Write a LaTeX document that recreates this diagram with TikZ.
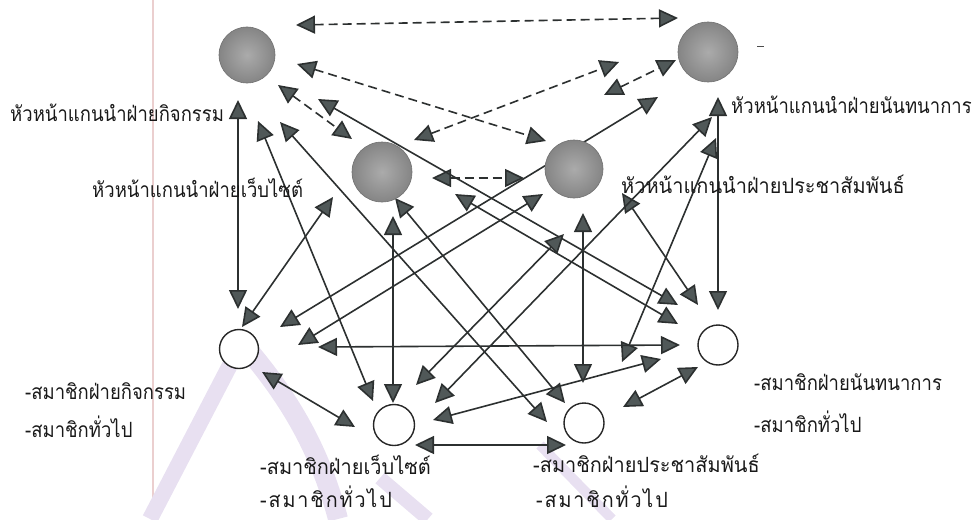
\documentclass[tikz,border=0pt]{standalone}
\usepackage{fontspec}
\newfontfamily\thai[Script=Thai,FakeStretch=0.88]{Loma}
\newfontfamily\thaiw[Script=Thai,FakeStretch=0.95]{Loma}
\newfontfamily\thaisp[Script=Thai,FakeStretch=0.94,LetterSpace=9]{Loma}
\usetikzlibrary{arrows.meta,backgrounds}
\definecolor{lineC}{HTML}{2C3030}
\definecolor{tipC}{HTML}{505858}
\definecolor{headIn}{HTML}{ABABAB}
\definecolor{headOut}{HTML}{858585}
\definecolor{wmC}{HTML}{E8E0F1}
\definecolor{pinkC}{HTML}{EBCFCF}
\begin{document}
\begin{tikzpicture}[x=1pt,y=-1pt,
  head/.style={circle, inner sep=0pt, minimum size=#1, draw=headOut!85!black, line width=0.6pt, inner color=headIn, outer color=headOut},
  member/.style={circle, inner sep=0pt, minimum size=#1, draw=black!85, line width=1.4pt, fill=white},
  lbl/.style={inner sep=0pt, anchor=base west, font=\thai\fontsize{21}{24}\selectfont, text=black!90},
  lblw/.style={lbl, font=\thaiw\fontsize{21}{24}\selectfont},
  lblsp/.style={lbl, font=\thaisp\fontsize{21}{24}\selectfont},
  conn/.style={draw=lineC, line width=1.6pt, arrows={Triangle[length=19pt,width=18pt,fill=tipC]-Triangle[length=19pt,width=18pt,fill=tipC]}},
  dconn/.style={conn, dash pattern=on 9pt off 5pt}
]
\useasboundingbox (0,0) rectangle (976,519);

% ---- nodes ----
\node[head=56pt] (A) at (247,55) {};
\node[head=60pt] (B) at (708,52) {};
\node[head=60pt] (C) at (382,172) {};
\node[head=58pt] (D) at (574,169) {};
\node[member=39pt] (a) at (239,349) {};
\node[member=40pt] (b) at (718,345) {};
\node[member=41pt] (c) at (394,425) {};
\node[member=40pt] (d) at (584,423) {};

% ---- labels ----
\node[lbl] (lA) at (10,121) {หัวหน้าแกนนำฝ่ายกิจกรรม};
\node[lbl] (lB) at (731,113) {หัวหน้าแกนนำฝ่ายนันทนาการ};
\node[lbl] (lC) at (92,197) {หัวหน้าแกนนำฝ่ายเว็บไซต์};
\node[lblw] (lD) at (621,193) {หัวหน้าแกนนำฝ่ายประชาสัมพันธ์};
\node[lbl] (la1) at (25,399) {-สมาชิกฝ่ายกิจกรรม};
\node[lbl] (la2) at (25,437) {-สมาชิกทั่วไป};
\node[lbl] (lb1) at (754,390) {-สมาชิกฝ่ายนันทนาการ};
\node[lbl] (lb2) at (754,432) {-สมาชิกทั่วไป};
\node[lblw] (lc1) at (260,474) {-สมาชิกฝ่ายเว็บไซต์};
\node[lblsp] (lc2) at (260,507) {-สมาชิกทั่วไป};
\node[lblw] (ld1) at (533,472) {-สมาชิกฝ่ายประชาสัมพันธ์};
\node[lblsp] (ld2) at (536,507) {-สมาชิกทั่วไป};

% ---- arrow end points ----
% dashed (heads)
\coordinate (dAB1) at (296,25);  \coordinate (dAB2) at (678,18);
\coordinate (dAC1) at (278,85);  \coordinate (dAC2) at (352,139);
\coordinate (dAD1) at (297,64);  \coordinate (dAD2) at (546,141);
\coordinate (dCB1) at (414,140); \coordinate (dCB2) at (619,62);
\coordinate (dDB1) at (604,95);  \coordinate (dDB2) at (676,60);
\coordinate (dCD1) at (432,178); \coordinate (dCD2) at (524,178);
% solid
\coordinate (Aa1) at (238,100); \coordinate (Aa2) at (238,309);
\coordinate (Ac1) at (258,121); \coordinate (Ac2) at (373,401);
\coordinate (Ad1) at (280,122); \coordinate (Ad2) at (547,422);
\coordinate (Ab1) at (318,99);  \coordinate (Ab2) at (678,305);
\coordinate (Ca1) at (333,197); \coordinate (Ca2) at (242,327);
\coordinate (Cc1) at (393,216); \coordinate (Cc2) at (393,403);
\coordinate (Cd1) at (395,198); \coordinate (Cd2) at (565,403);
\coordinate (Cb1) at (455,194); \coordinate (Cb2) at (678,324);
\coordinate (Da1) at (543,194); \coordinate (Da2) at (298,345);
\coordinate (Dc1) at (564,234); \coordinate (Dc2) at (416,385);
\coordinate (Dd1) at (583,213); \coordinate (Dd2) at (583,383);
\coordinate (Db1) at (622,193); \coordinate (Db2) at (698,305);
\coordinate (Ba1) at (658,97);  \coordinate (Ba2) at (280,327);
\coordinate (Bb1) at (718,97);  \coordinate (Bb2) at (718,310);
\coordinate (Bc1) at (712,117); \coordinate (Bc2) at (435,403);
\coordinate (Bd1) at (716,138); \coordinate (Bd2) at (622,362);
\coordinate (ab1) at (318,347); \coordinate (ab2) at (680,345);
\coordinate (ac1) at (262,372); \coordinate (ac2) at (355,427);
\coordinate (cd1) at (415,445); \coordinate (cd2) at (566,445);
\coordinate (cb1) at (433,420); \coordinate (cb2) at (661,359);
\coordinate (db1) at (623,407); \coordinate (db2) at (698,367);
\coordinate (dash1) at (757,47); \coordinate (dash2) at (764,47);

\begin{scope}[on background layer]
  % scan artefacts: watermark and margin line
  \draw[pinkC, line width=1.2pt] (153,0) -- (153,519);
  \draw[wmC, line width=16pt, line cap=butt] (243,340) -- (150,519);
  \draw[wmC, line width=20pt, line cap=butt] (250,352) .. controls (290,400) and (320,450) .. (338,519);
  \draw[wmC, line width=14pt, line cap=butt] (380,478) -- (428,519);
  \draw[wmC, line width=10pt, line cap=butt] (540,445) -- (612,519);
  % dashed connectors between heads
  \draw[dconn] (dAB1) -- (dAB2);
  \draw[dconn] (dAC1) -- (dAC2);
  \draw[dconn] (dAD1) -- (dAD2);
  \draw[dconn] (dCB1) -- (dCB2);
  \draw[dconn] (dDB1) -- (dDB2);
  \draw[dconn] (dCD1) -- (dCD2);
  % solid connectors
  \draw[conn] (Aa1) -- (Aa2);
  \draw[conn] (Ac1) -- (Ac2);
  \draw[conn] (Ad1) -- (Ad2);
  \draw[conn] (Ab1) -- (Ab2);
  \draw[conn] (Ca1) -- (Ca2);
  \draw[conn] (Cc1) -- (Cc2);
  \draw[conn] (Cd1) -- (Cd2);
  \draw[conn] (Cb1) -- (Cb2);
  \draw[conn] (Da1) -- (Da2);
  \draw[conn] (Dc1) -- (Dc2);
  \draw[conn] (Dd1) -- (Dd2);
  \draw[conn] (Db1) -- (Db2);
  \draw[conn] (Ba1) -- (Ba2);
  \draw[conn] (Bb1) -- (Bb2);
  \draw[conn] (Bc1) -- (Bc2);
  \draw[conn] (Bd1) -- (Bd2);
  \draw[conn] (ab1) -- (ab2);
  \draw[conn] (ac1) -- (ac2);
  \draw[conn] (cd1) -- (cd2);
  \draw[conn] (cb1) -- (cb2);
  \draw[conn] (db1) -- (db2);
  \draw[black!70, line width=1pt] (dash1) -- (dash2);
\end{scope}
\end{tikzpicture}
\end{document}
